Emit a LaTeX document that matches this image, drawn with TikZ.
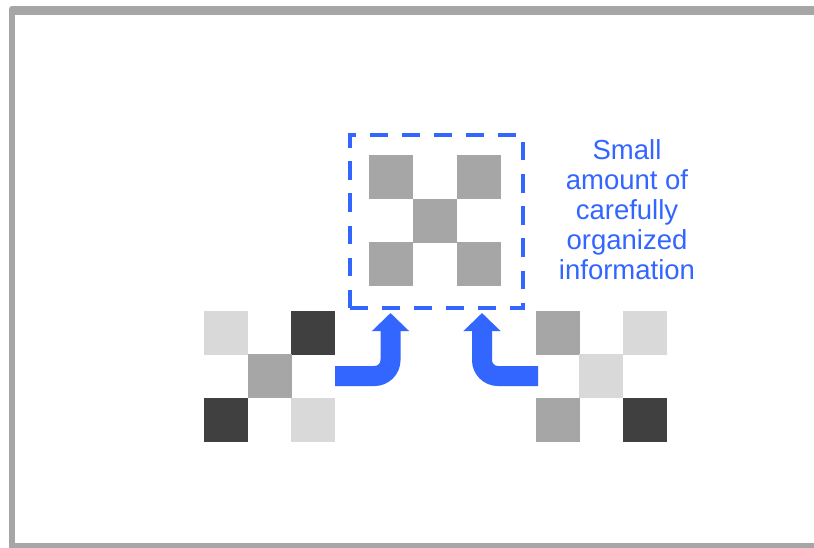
\documentclass[tikz,border=0pt]{standalone}
\usepackage{fontspec}
\setmainfont{Liberation Sans}
\usetikzlibrary{arrows.meta}
\definecolor{frame}{HTML}{A6A6A6}
\definecolor{lightg}{HTML}{D9D9D9}
\definecolor{midg}{HTML}{A6A6A6}
\definecolor{darkg}{HTML}{404040}
\definecolor{blu}{HTML}{3366FF}
\tikzset{
  sq/.style={minimum size=44pt, inner sep=0pt, outer sep=0pt, draw=none, fill=#1},
  bigarrow/.style={blu, line width=20pt, rounded corners=16pt,
    -{Triangle[width=36pt,length=18pt]}},
  dashbox/.style={blu, line width=4.2pt, dash pattern=on 18.3pt off 13.8pt},
  label/.style={text=blu, font=\fontsize{27.5pt}{30pt}\selectfont, align=center, inner sep=0pt}
}
\begin{document}
\begin{tikzpicture}[x=1pt,y=-1pt]
\useasboundingbox (0,0) rectangle (814,547);
\begin{scope}
\clip (0,0) rectangle (814,547);
\fill[frame, rounded corners=3pt] (9,6) rectangle (840,560);
\fill[white] (15,15) rectangle (840,543);
\end{scope}
% left group
\node[sq=lightg] (l11) at (226,333) {};
\node[sq=darkg]  (l13) at (313,333) {};
\node[sq=midg]   (l22) at (270,376) {};
\node[sq=darkg]  (l31) at (226,420) {};
\node[sq=lightg] (l33) at (313,420) {};
% top group
\node[sq=midg] (t11) at (391,177) {};
\node[sq=midg] (t13) at (479,177) {};
\node[sq=midg] (t22) at (435,221) {};
\node[sq=midg] (t31) at (391,264) {};
\node[sq=midg] (t33) at (479,264) {};
% right group
\node[sq=midg]   (r11) at (558,333) {};
\node[sq=lightg] (r13) at (645,333) {};
\node[sq=lightg] (r22) at (601,376) {};
\node[sq=midg]   (r31) at (558,420) {};
\node[sq=darkg]  (r33) at (645,420) {};
% dashed box
\coordinate (bl) at (350,308);
\coordinate (tl) at (350,135);
\coordinate (tr) at (523,135);
\coordinate (br) at (523,308);
\draw[dashbox] (bl) -- (tl) -- (tr) -- (br) -- cycle;
% arrows
\coordinate (la) at (335,376);
\coordinate (lt) at (390.5,313);
\coordinate (ra) at (538,376);
\coordinate (rt) at (482,313);
\draw[bigarrow] (la) -| (lt);
\draw[bigarrow] (ra) -| (rt);
% label
\node[label, anchor=base] (txt) at (627,279) {Small\\amount of\\carefully\\organized\\information};
\end{tikzpicture}
\end{document}
